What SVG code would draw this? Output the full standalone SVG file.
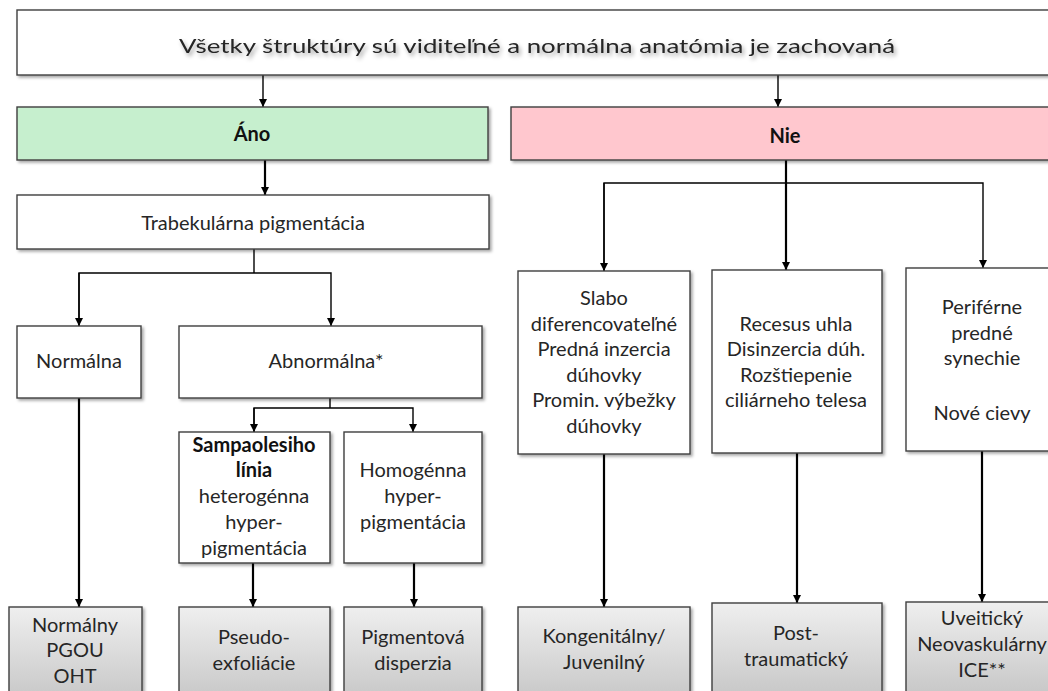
<svg xmlns="http://www.w3.org/2000/svg" width="1048" height="691" viewBox="0 0 1048 691">
<defs>
<filter id="sh" x="-5%" y="-5%" width="115%" height="120%">
<feDropShadow dx="2" dy="2" stdDeviation="1.5" flood-color="#000" flood-opacity="0.35"/>
</filter>
<filter id="tsh" x="-5%" y="-30%" width="110%" height="160%">
<feDropShadow dx="2" dy="3" stdDeviation="2" flood-color="#000" flood-opacity="0.35"/>
</filter>
<linearGradient id="gray" x1="0" y1="0" x2="0" y2="1">
<stop offset="0" stop-color="#efefef"/>
<stop offset="1" stop-color="#c4c4c4"/>
</linearGradient>
<marker id="ah" viewBox="0 0 10 10" refX="10" refY="5" markerWidth="8" markerHeight="8" markerUnits="userSpaceOnUse" orient="auto">
<path d="M0,0 L10,5 L0,10 z" fill="#000"/>
</marker>
</defs>
<style>
.box{fill:#fff;stroke:#3f3f3f;stroke-width:1.4;filter:url(#sh)}
.g{fill:url(#gray);stroke:#3f3f3f;stroke-width:1.4;filter:url(#sh)}
.t{font-family:Lato,"Liberation Sans",sans-serif;font-size:20px;fill:#262626;text-anchor:middle}
.b{font-weight:bold;fill:#111}
.c{fill:none;stroke:#000;stroke-width:1.4}
.k{fill:none;stroke:#000;stroke-width:2.2}
</style>
<rect width="1048" height="691" fill="#fff"/>
<g id="connectors">
<path class="c" d="M263,75 V107" marker-end="url(#ah)"/>
<path class="c" d="M778,75 V107" marker-end="url(#ah)"/>
<path class="k" d="M265,160 V195" marker-end="url(#ah)"/>
<path class="c" d="M254,249 V273"/>
<path class="c" d="M79,326 V273 H331 V326" marker-end="url(#ah)"/>
<path class="c" d="M79,273 V326" marker-end="url(#ah)"/>
<path class="k" d="M786,160 V270" marker-end="url(#ah)"/>
<path class="c" d="M604,271 V183 H983 V268" marker-end="url(#ah)"/>
<path class="c" d="M604,183 V271" marker-end="url(#ah)"/>
<path class="c" d="M330,398 V408"/>
<path class="c" d="M254,432 V408 H413 V432" marker-end="url(#ah)"/>
<path class="c" d="M254,408 V432" marker-end="url(#ah)"/>
<path class="k" d="M79,398 V607" marker-end="url(#ah)"/>
<path class="k" d="M253,563 V607" marker-end="url(#ah)"/>
<path class="k" d="M414,563 V607" marker-end="url(#ah)"/>
<path class="k" d="M604,454 V607" marker-end="url(#ah)"/>
<path class="k" d="M797,453 V603" marker-end="url(#ah)"/>
<path class="k" d="M982,451 V602" marker-end="url(#ah)"/>
</g>
<g id="n-top">
<rect class="box" x="17" y="10" width="1060" height="65"/>
<text class="t" x="537" y="53" font-size="27" textLength="716" lengthAdjust="spacingAndGlyphs" filter="url(#tsh)">Všetky štruktúry sú viditeľné a normálna anatómia je zachovaná</text>
</g>
<g id="n-ano">
<rect class="box" x="17" y="107" width="471" height="53" style="fill:#c6efce"/>
<text class="t b" x="252" y="141">Áno</text>
</g>
<g id="n-nie">
<rect class="box" x="511" y="107" width="560" height="53" style="fill:#ffc7ce"/>
<text class="t b" x="785" y="143" font-size="25">Nie</text>
</g>
<g id="n-trab">
<rect class="box" x="17" y="195" width="472" height="54"/>
<text class="t" x="253" y="230">Trabekulárna pigmentácia</text>
</g>
<g id="n-normalna">
<rect class="box" x="17" y="326" width="124" height="72"/>
<text class="t" x="79" y="368">Normálna</text>
</g>
<g id="n-abnormalna">
<rect class="box" x="179" y="326" width="303" height="72"/>
<text class="t" x="326" y="368">Abnormálna*</text>
</g>
<g id="n-samp">
<rect class="box" x="179" y="432" width="151" height="131"/>
<text class="t b" x="254" y="452">Sampaolesiho</text>
<text class="t b" x="254" y="477">línia</text>
<text class="t" x="254" y="503">heterogénna</text>
<text class="t" x="254" y="529">hyper-</text>
<text class="t" x="254" y="555">pigmentácia</text>
</g>
<g id="n-homog">
<rect class="box" x="344" y="432" width="138" height="131"/>
<text class="t" x="413" y="477">Homogénna</text>
<text class="t" x="413" y="503">hyper-</text>
<text class="t" x="413" y="529">pigmentácia</text>
</g>
<g id="n-normalny">
<rect class="g" x="9" y="607" width="133" height="100"/>
<text class="t" x="75" y="632">Normálny</text>
<text class="t" x="75" y="657">PGOU</text>
<text class="t" x="75" y="683">OHT</text>
</g>
<g id="n-pseudo">
<rect class="g" x="179" y="607" width="151" height="100"/>
<text class="t" x="254" y="644">Pseudo-</text>
<text class="t" x="254" y="670">exfoliácie</text>
</g>
<g id="n-pigment">
<rect class="g" x="344" y="607" width="138" height="100"/>
<text class="t" x="413" y="644">Pigmentová</text>
<text class="t" x="413" y="670">disperzia</text>
</g>
<g id="n-slabo">
<rect class="box" x="518" y="271" width="172" height="183"/>
<text class="t" x="604" y="305">Slabo</text>
<text class="t" x="604" y="331">diferencovateľné</text>
<text class="t" x="604" y="356">Predná inzercia</text>
<text class="t" x="604" y="382">dúhovky</text>
<text class="t" x="604" y="407">Promin. výbežky</text>
<text class="t" x="604" y="433">dúhovky</text>
</g>
<g id="n-recesus">
<rect class="box" x="712" y="270" width="170" height="183"/>
<text class="t" x="796" y="331">Recesus uhla</text>
<text class="t" x="796" y="356">Disinzercia dúh.</text>
<text class="t" x="796" y="382">Rozštiepenie</text>
<text class="t" x="796" y="407">ciliárneho telesa</text>
</g>
<g id="n-periferne">
<rect class="box" x="906" y="268" width="152" height="183"/>
<text class="t" x="982" y="314">Periférne</text>
<text class="t" x="982" y="340">predné</text>
<text class="t" x="982" y="365">synechie</text>
<text class="t" x="982" y="420">Nové cievy</text>
</g>
<g id="n-kong">
<rect class="g" x="518" y="607" width="172" height="100"/>
<text class="t" x="604" y="643">Kongenitálny/</text>
<text class="t" x="604" y="669">Juvenilný</text>
</g>
<g id="n-post">
<rect class="g" x="712" y="603" width="170" height="100"/>
<text class="t" x="796" y="640">Post-</text>
<text class="t" x="796" y="666">traumatický</text>
</g>
<g id="n-uveit">
<rect class="g" x="906" y="602" width="152" height="100"/>
<text class="t" x="982" y="625">Uveitický</text>
<text class="t" x="982" y="651">Neovaskulárny</text>
<text class="t" x="982" y="677">ICE**</text>
</g>
</svg>
